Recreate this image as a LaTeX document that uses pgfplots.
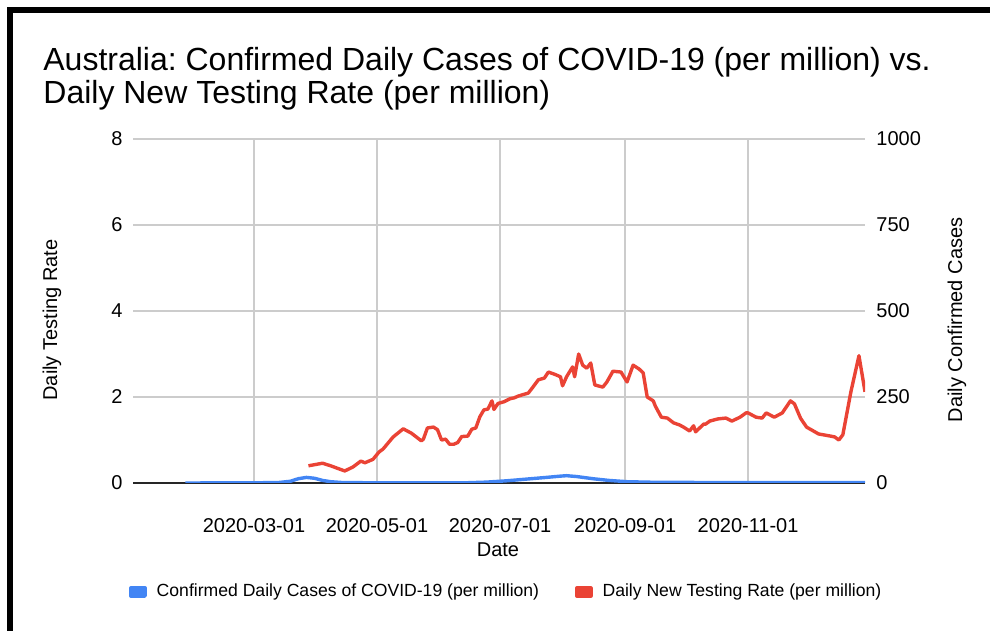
\documentclass[border=0pt]{standalone}
\usepackage{fontspec}
\setmainfont{Liberation Sans}
\usepackage{pgfplots}
\pgfplotsset{compat=1.18}

\definecolor{gblue}{RGB}{66,133,244}
\definecolor{gred}{RGB}{234,67,53}
\definecolor{ggrid}{RGB}{204,204,204}

\pgfplotstableread{
day val
87 0.40
94 0.46
98 0.40
105 0.28
109 0.37
113 0.51
115 0.47
119 0.55
122 0.72
124 0.79
129 1.07
134 1.26
138 1.16
143 0.98
144 1.02
146 1.28
149 1.30
151 1.24
153 1.00
155 1.02
157 0.90
159 0.90
161 0.94
163 1.08
166 1.09
168 1.25
170 1.28
172 1.54
174 1.70
176 1.72
178 1.91
179 1.71
181 1.85
184 1.89
187 1.96
189 1.98
191 2.02
193 2.05
196 2.09
198 2.21
201 2.40
204 2.44
206 2.58
209 2.53
212 2.47
213 2.26
215 2.47
218 2.70
219 2.47
221 3.00
223 2.74
225 2.67
227 2.79
229 2.28
233 2.23
235 2.35
238 2.60
242 2.58
245 2.35
248 2.74
251 2.65
253 2.56
255 2.00
258 1.91
259 1.79
262 1.53
265 1.51
268 1.40
271 1.35
273 1.30
276 1.21
278 1.33
279 1.19
283 1.37
284 1.37
286 1.44
290 1.49
294 1.51
297 1.44
301 1.53
304 1.63
305 1.63
309 1.53
312 1.51
314 1.63
318 1.53
322 1.63
326 1.91
328 1.84
331 1.51
334 1.30
340 1.14
346 1.09
348 1.07
350 1.00
352 1.12
356 2.12
360 2.96
363 2.12
}\testing

\pgfplotstableread{
day val
26 0.00
60 0.005
72 0.01
78 0.04
82 0.10
86 0.13
90 0.11
94 0.06
98 0.03
104 0.01
120 0.005
165 0.005
175 0.02
185 0.05
195 0.09
205 0.13
212 0.16
215 0.17
220 0.15
228 0.10
236 0.06
245 0.03
260 0.015
300 0.01
363 0.01
}\cases

\begin{document}
\frenchspacing
\begin{tikzpicture}
\path[use as bounding box] (0pt,0pt) rectangle (495pt,315.5pt);
% frame
\fill[black] (3.5pt,0pt) rectangle (6.5pt,312pt);
\fill[black] (3.5pt,309pt) rectangle (495pt,312pt);
% title
\node[anchor=base west, inner sep=0pt, font=\fontsize{16}{16.5}\selectfont] at (21.5pt,280pt) {Australia: Confirmed Daily Cases of COVID-19 (per million) vs.};
\node[anchor=base west, inner sep=0pt, font=\fontsize{16}{16.5}\selectfont] at (21.5pt,263.5pt) {Daily New Testing Rate (per million)};

\begin{axis}[
    at={(66.5pt,74pt)}, anchor=south west,
    scale only axis, width=366pt, height=172pt,
    xmin=0, xmax=363, ymin=0, ymax=8,
    axis line style={draw=none},
    major tick length=0pt,
    xtick={60,121,182,244,305},
    xticklabels={2020-03-01,2020-05-01,2020-07-01,2020-09-01,2020-11-01},
    ytick={2,4,6,8},
    extra y ticks={0},
    extra y tick style={grid style={black!85, line width=1.1pt}},
    grid=major, grid style={ggrid, line width=0.6pt},
    /pgf/number format/assume math mode=true,
    tick label style={font=\fontsize{10}{12}\selectfont},
    yticklabel style={anchor=east, inner sep=0pt, xshift=-5pt},
    xticklabel style={anchor=north, inner sep=0pt, yshift=-17.5pt},
    xlabel={Date},
    xlabel style={at={(axis description cs:0.4986,-0.195)}, anchor=center, font=\fontsize{10}{12}\selectfont},
    ylabel={Daily Testing Rate},
    ylabel style={at={(axis description cs:-0.1107,0.474)}, anchor=center, font=\fontsize{10}{12}\selectfont},
    legend style={at={(0.510,-0.317)}, anchor=center, draw=none, fill=none,
        legend columns=2, font=\fontsize{8.8}{10}\selectfont,
        /tikz/every even column/.append style={column sep=17pt},
        nodes={inner sep=1pt}},
    legend cell align=left,
]
\addplot[gblue, line width=1.7pt, line join=round,
    legend image code/.code={\fill[gblue] (0pt,-2pt) rectangle (7pt,2pt);}]
    table[x=day, y=val] {\cases};
\addlegendentry{\hspace{4pt}Confirmed Daily Cases of COVID-19 (per million)}
\addplot[gred, line width=1.7pt, line join=round,
    legend image code/.code={\fill[gred] (0pt,-2pt) rectangle (7pt,2pt);}]
    table[x=day, y=val] {\testing};
\addlegendentry{\hspace{4pt}Daily New Testing Rate (per million)}
\end{axis}

\begin{axis}[
    at={(66.5pt,74pt)}, anchor=south west,
    scale only axis, width=366pt, height=172pt,
    xmin=0, xmax=363, ymin=0, ymax=1000,
    axis x line=none, axis y line*=right,
    axis line style={draw=none},
    major tick length=0pt,
    ytick={0,250,500,750,1000},
    /pgf/number format/assume math mode=true,
    /pgf/number format/1000 sep={},
    tick label style={font=\fontsize{10}{12}\selectfont},
    yticklabel style={anchor=west, inner sep=0pt, xshift=5.5pt},
    ylabel={Daily Confirmed Cases},
    ylabel style={at={(axis description cs:1.1257,0.474)}, anchor=center, rotate=0, font=\fontsize{10}{12}\selectfont},
]
\end{axis}
\end{tikzpicture}
\end{document}
